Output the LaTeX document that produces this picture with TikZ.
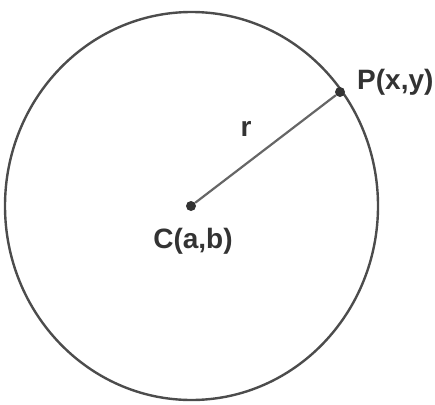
\documentclass[tikz,border=0pt]{standalone}
\usepackage{fontspec}
\setmainfont{Liberation Sans}
\usetikzlibrary{positioning}

\begin{document}
\begin{tikzpicture}[x=1pt, y=-1pt,
    dot/.style={circle, fill=black!80, inner sep=0pt, minimum size=10pt},
    lbl/.style={font=\bfseries\fontsize{28}{30}\selectfont, text=black!80, inner sep=0pt},
    rim/.style={draw=black!70, line width=2.4pt},
    radial/.style={draw=black!60, line width=2.2pt}
  ]
  \useasboundingbox (0,0) rectangle (435,404);
  % the circle
  \draw[rim] (191.5,206) ellipse [x radius=186.5, y radius=194];
  % centre and point on the rim
  \node[dot] (c) at (191,206) {};
  \node[dot] (p) at (340,92) {};
  \draw[radial] (c) -- (p);
  \node[lbl] (clabel) at (193,241) {C(a,b)};
  \node[lbl, anchor=west] (plabel) at (357,82) {P(x,y)};
  \node[lbl] (rlabel) at (246,129) {r};
\end{tikzpicture}
\end{document}
